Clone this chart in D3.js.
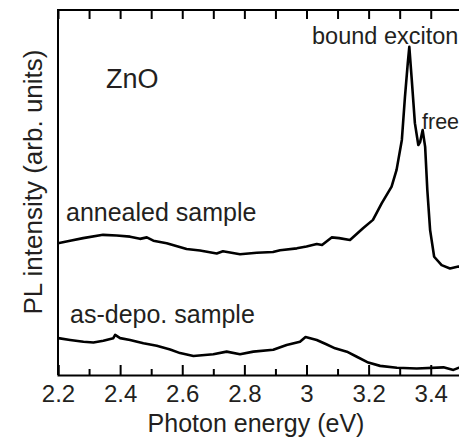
<!DOCTYPE html>
<html>
<head>
<meta charset="utf-8">
<script src="https://cdn.jsdelivr.net/npm/d3@7"></script>
<style>
  html, body { margin: 0; padding: 0; background: #fff; }
  svg { display: block; }
  text { font-family: "Liberation Sans", Arial, Helvetica, sans-serif; fill: #231f20; }
</style>
</head>
<body>
<svg id="chart" width="459" height="442"></svg>
<script>
// PL spectra of ZnO films: photon energy (eV) vs intensity (arb. units)
const energyAnnealed = [2.200, 2.239, 2.281, 2.345, 2.389, 2.432, 2.464, 2.486, 2.507, 2.550,
  2.614, 2.657, 2.711, 2.731, 2.786, 2.840, 2.892, 2.915, 2.969, 3.000, 3.033, 3.050, 3.081,
  3.105, 3.140, 3.182, 3.214, 3.242, 3.274, 3.290, 3.307, 3.317, 3.326, 3.331, 3.339, 3.349,
  3.360, 3.366, 3.374, 3.382, 3.389, 3.398, 3.411, 3.435, 3.462, 3.489, 3.500];
const intensityAnnealed = [36.1, 36.8, 37.5, 38.4, 38.2, 37.9, 37.3, 37.7, 36.8, 36.1,
  34.5, 34.1, 33.3, 33.9, 33.1, 33.5, 33.7, 34.2, 34.7, 35.2, 35.9, 35.6, 37.7,
  37.5, 37.0, 40.2, 42.5, 47.0, 51.6, 56.2, 64.4, 76.2, 85.4, 89.9, 80.8, 69.0,
  63.0, 63.9, 67.1, 62.5, 50.7, 39.7, 32.4, 30.1, 29.2, 29.7, 29.6];

const energyAsDepo = [2.201, 2.239, 2.282, 2.314, 2.346, 2.378, 2.384, 2.400, 2.432, 2.475,
  2.518, 2.561, 2.593, 2.636, 2.700, 2.743, 2.786, 2.829, 2.893, 2.936, 2.979, 2.997, 3.033,
  3.062, 3.092, 3.130, 3.162, 3.199, 3.237, 3.291, 3.355, 3.441, 3.473, 3.491, 3.500];
const intensityAsDepo = [10.1, 9.6, 9.1, 8.9, 9.4, 10.1, 11.0, 10.1, 9.6, 8.7,
  8.0, 7.0, 6.0, 5.2, 5.7, 6.4, 5.7, 6.4, 6.9, 8.2, 9.1, 10.4, 9.6,
  8.5, 7.3, 6.4, 5.0, 3.4, 2.5, 2.0, 1.8, 2.1, 1.4, 2.0, 2.0];

const majorTicks = [2.2, 2.4, 2.6, 2.8, 3.0, 3.2, 3.4];
const minorTicks = [2.3, 2.5, 2.7, 2.9, 3.1, 3.3, 3.5];
const tickLabels = ["2.2", "2.4", "2.6", "2.8", "3", "3.2", "3.4"];

const svg = d3.select("#chart");
const margin = { left: 58, top: 10, bottom: 375, right: 461.8 };

const x = d3.scaleLinear().domain([2.2, 3.5]).range([margin.left, margin.right]);
const y = d3.scaleLinear().domain([0, 100]).range([margin.bottom, margin.top]);

// frame: left and top edges (bottom edge comes from the axis domain)
const frame = svg.append("g").attr("stroke", "#000").attr("stroke-width", 2).attr("fill", "none");
frame.append("path").attr("d", `M${margin.left},${margin.bottom}V${margin.top}H${margin.right + 2}`);

// bottom axis with inward ticks
const axB = d3.axisBottom(x).tickValues(majorTicks)
  .tickFormat((d, i) => tickLabels[i]).tickSize(-10).tickPadding(10);
const gB = svg.append("g").attr("transform", `translate(0,${margin.bottom})`).call(axB);
gB.select(".domain").attr("stroke-width", 2);
gB.selectAll(".tick line").attr("stroke-width", 2);
gB.selectAll("text").style("font-size", "24px").attr("fill", "#231f20");

const axBm = d3.axisBottom(x).tickValues(minorTicks).tickFormat("").tickSize(-6);
const gBm = svg.append("g").attr("transform", `translate(0,${margin.bottom})`).call(axBm);
gBm.select(".domain").remove();
gBm.selectAll(".tick line").attr("stroke-width", 2);

// top axis ticks, pointing down
const axT = d3.axisTop(x).tickValues(majorTicks.concat(minorTicks)).tickFormat("").tickSize(-9);
const gT = svg.append("g").attr("transform", `translate(0,${margin.top})`).call(axT);
gT.select(".domain").remove();
gT.selectAll(".tick line").attr("stroke-width", 2);

// spectra
const line = d3.line().x(d => x(d[0])).y(d => y(d[1])).curve(d3.curveLinear);
const plot = svg.append("g");
plot.append("path")
  .datum(d3.zip(energyAnnealed, intensityAnnealed))
  .attr("d", line).attr("fill", "none").attr("stroke", "#000")
  .attr("stroke-width", 2.6).attr("stroke-linejoin", "round");
plot.append("path")
  .datum(d3.zip(energyAsDepo, intensityAsDepo))
  .attr("d", line).attr("fill", "none").attr("stroke", "#000")
  .attr("stroke-width", 2.6).attr("stroke-linejoin", "round");

// annotations
svg.append("text").attr("x", 106).attr("y", 88).style("font-size", "27px").text("ZnO");
svg.append("text").attr("x", 66).attr("y", 221).style("font-size", "25px").text("annealed sample");
svg.append("text").attr("x", 70).attr("y", 323).style("font-size", "25px").text("as-depo. sample");
svg.append("text").attr("x", 312).attr("y", 44).style("font-size", "23.5px").text("bound exciton");
svg.append("text").attr("x", 422).attr("y", 129).style("font-size", "21.5px").text("free");

// axis titles
svg.append("text").attr("x", 256).attr("y", 432).attr("text-anchor", "middle")
  .style("font-size", "25px").text("Photon energy (eV)");
svg.append("text").attr("transform", "translate(42,182) rotate(-90)").attr("text-anchor", "middle")
  .style("font-size", "26px").text("PL intensity (arb. units)");
</script>
</body>
</html>
